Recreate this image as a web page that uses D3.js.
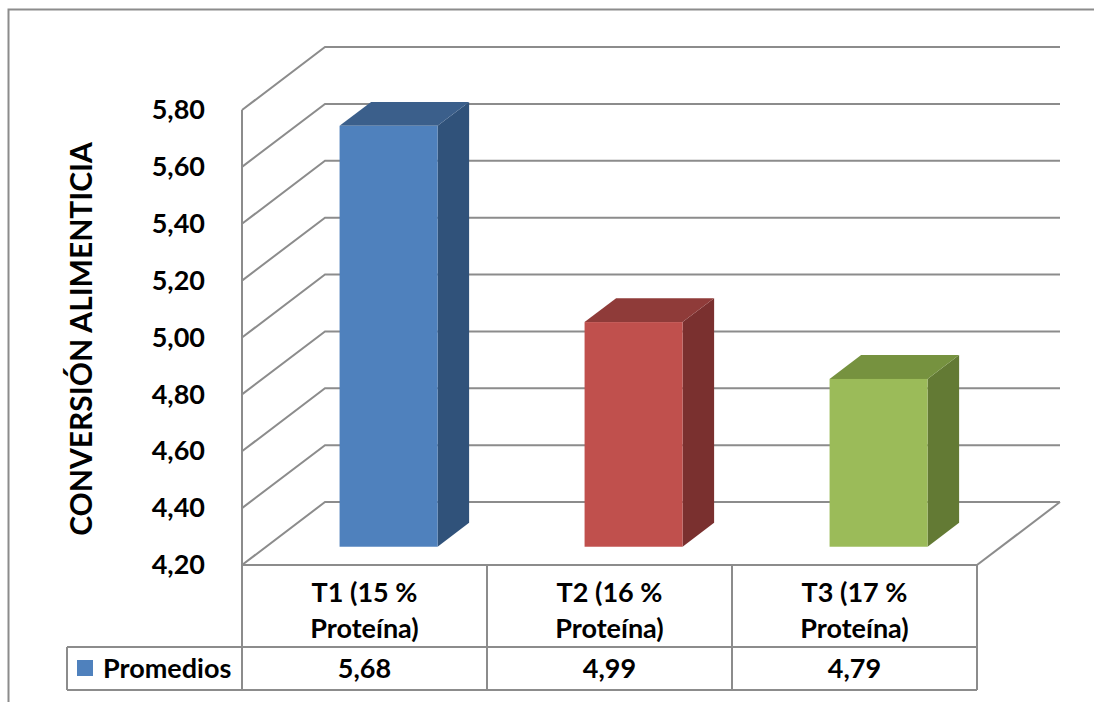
<!DOCTYPE html>
<html>
<head>
<meta charset="utf-8">
<script src="https://cdn.jsdelivr.net/npm/d3@7/dist/d3.min.js"></script>
<style>
  html, body { margin: 0; padding: 0; background: #fff; }
  svg { display: block; }
  text { font-family: Lato, "Open Sans", sans-serif; font-weight: bold; fill: #000; }
</style>
</head>
<body>
<svg id="chart" width="1094" height="702"></svg>
<script>
// Conversión alimenticia por tratamiento
const categories = ["T1 (15 % Proteína)", "T2 (16 % Proteína)", "T3 (17 % Proteína)"];
const categoryLines = [["T1 (15 %", "Proteína)"], ["T2 (16 %", "Proteína)"], ["T3 (17 %", "Proteína)"]];
const promedios = [5.68, 4.99, 4.79];
const seriesName = "Promedios";
const yTicks = [4.2, 4.4, 4.6, 4.8, 5.0, 5.2, 5.4, 5.6, 5.8];
const yTitle = "CONVERSIÓN ALIMENTICIA";

const faceColors = [
  { front: "#4F81BD", top: "#3B5F8B", side: "#30527A" },
  { front: "#C0504D", top: "#8F3B39", side: "#7A302F" },
  { front: "#9BBB59", top: "#76923F", side: "#637A34" }
];

const svg = d3.select("#chart");
const locale = d3.formatLocale({ decimal: ",", thousands: ".", grouping: [3], currency: ["", ""] });
const fmt = locale.format(".2f");

// plot geometry (front plane + depth offset)
const plotLeft = 242, plotRight = 977, plotTop = 110, plotBottom = 565;
const depthX = 83, depthY = -63;
const d0 = 0.29, d1 = 0.67;   // bar depth range within the box
const fontSize = "27px";

const y = d3.scaleLinear().domain([4.2, 5.8]).range([plotBottom, plotTop]);
const x = d3.scaleBand().domain(categories).range([plotLeft, plotRight]).paddingInner(0.6).paddingOuter(0.3);
const col = d3.scaleBand().domain(categories).range([plotLeft, plotRight]);

const grid = "#8C8C8C";

// outer frame
svg.append("path")
  .attr("d", "M8.5,702 L8.5,9.5 L1094,9.5")
  .attr("fill", "none").attr("stroke", "#8C8C8C").attr("stroke-width", 2);

// gridlines: side wall diagonal + back wall horizontal
const gGrid = svg.append("g");
yTicks.forEach(v => {
  const yy = y(v);
  gGrid.append("polyline")
    .attr("points", `${plotLeft},${yy} ${plotLeft + depthX},${yy + depthY} ${plotRight + depthX},${yy + depthY}`)
    .attr("fill", "none").attr("stroke", grid).attr("stroke-width", 2);
});

// floor right diagonal
gGrid.append("line")
  .attr("x1", plotRight).attr("y1", plotBottom)
  .attr("x2", plotRight + depthX).attr("y2", plotBottom + depthY)
  .attr("stroke", grid).attr("stroke-width", 2);

// front vertical axis line
gGrid.append("line")
  .attr("x1", plotLeft).attr("y1", plotTop).attr("x2", plotLeft).attr("y2", plotBottom)
  .attr("stroke", grid).attr("stroke-width", 2);

// y axis labels
const axis = d3.axisLeft(y).tickValues(yTicks).tickFormat(fmt).tickSize(0).tickPadding(37);
const gAxis = svg.append("g").attr("transform", `translate(${plotLeft},0)`).call(axis);
gAxis.select(".domain").remove();
gAxis.selectAll("text").style("font-size", fontSize).style("font-family", "Lato, sans-serif").style("font-weight", "bold").attr("fill", "#000");

// y axis title
svg.append("text")
  .attr("transform", `translate(92,339) rotate(-90)`)
  .attr("text-anchor", "middle")
  .style("font-size", "30px")
  .text(yTitle);

// 3D bars
const gBars = svg.append("g");
categories.forEach((c, i) => {
  const v = promedios[i];
  const xa = x(c), xb = x(c) + x.bandwidth();
  const fx = (px, d) => px + d * depthX;
  const fy = (py, d) => py + d * depthY;
  const yt = y(v), yb = y(4.2);
  const colr = faceColors[i];
  // side face
  gBars.append("polygon")
    .attr("points", [
      [fx(xb, d0), fy(yt, d0)], [fx(xb, d1), fy(yt, d1)],
      [fx(xb, d1), fy(yb, d1)], [fx(xb, d0), fy(yb, d0)]
    ].map(p => p.join(",")).join(" "))
    .attr("fill", colr.side);
  // top face
  gBars.append("polygon")
    .attr("points", [
      [fx(xa, d0), fy(yt, d0)], [fx(xb, d0), fy(yt, d0)],
      [fx(xb, d1), fy(yt, d1)], [fx(xa, d1), fy(yt, d1)]
    ].map(p => p.join(",")).join(" "))
    .attr("fill", colr.top);
  // front face
  gBars.append("rect")
    .attr("x", fx(xa, d0)).attr("y", fy(yt, d0))
    .attr("width", x.bandwidth()).attr("height", yb - yt)
    .attr("fill", colr.front);
});

// data table
const rowTop = plotBottom, rowMid = 647, rowBot = 690, legendLeft = 67;
const gTable = svg.append("g");
const tl = (x1, y1, x2, y2) => gTable.append("line")
  .attr("x1", x1).attr("y1", y1).attr("x2", x2).attr("y2", y2)
  .attr("stroke", grid).attr("stroke-width", 2);
tl(plotLeft, rowTop, plotRight, rowTop);
tl(legendLeft, rowMid, plotRight, rowMid);
tl(legendLeft, rowBot, plotRight, rowBot);
tl(legendLeft, rowMid, legendLeft, rowBot);
categories.forEach(c => tl(col(c), rowTop, col(c), rowBot));
tl(plotRight, rowTop, plotRight, rowBot);

categories.forEach((c, i) => {
  const cx = col(c) + col.bandwidth() / 2;
  const t = gTable.append("text").attr("text-anchor", "middle").style("font-size", fontSize);
  categoryLines[i].forEach((ln, k) => {
    t.append("tspan").attr("x", cx).attr("y", 602 + k * 36).text(ln);
  });
  gTable.append("text").attr("x", cx).attr("y", 678)
    .attr("text-anchor", "middle").style("font-size", fontSize)
    .text(fmt(promedios[i]));
});

// legend key in table
gTable.append("rect").attr("x", 77).attr("y", 660).attr("width", 16).attr("height", 16).attr("fill", faceColors[0].front);
gTable.append("text").attr("x", 103).attr("y", 678).style("font-size", fontSize).text(seriesName);
</script>
</body>
</html>
